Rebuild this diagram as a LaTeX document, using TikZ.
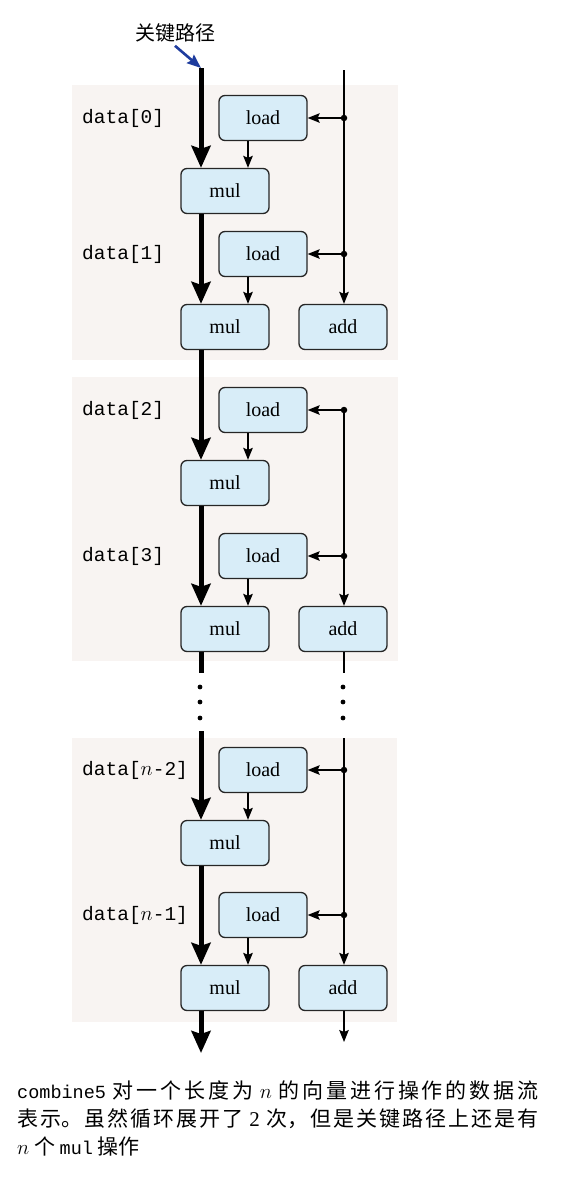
\documentclass[tikz,border=0pt]{standalone}
\usepackage[dvipsnames,svgnames]{xcolor}
\usepackage{fontspec}
\setmainfont{Liberation Serif}
\setmonofont{Liberation Mono}
\newfontfamily\cjk{Noto Sans CJK SC}
\usetikzlibrary{arrows.meta}
\definecolor{opfill}{HTML}{D8EDF8}
\definecolor{panel}{HTML}{F8F4F2}
\definecolor{tagblue}{HTML}{1E3C9E}
\XeTeXlinebreaklocale "zh"
\XeTeXlinebreakskip=0pt plus 3pt

\begin{document}
\begin{tikzpicture}[x=1pt,y=-1pt,
 op/.style={draw=black!85,line width=1.3pt,rounded corners=6pt,
   fill=opfill,minimum width=88pt,minimum height=45pt,inner sep=0pt,
   font=\fontsize{20}{20}\selectfont},
 crit/.style={line width=5pt,-{Stealth[length=22pt,width=19pt,inset=3pt]}},
 flow/.style={line width=1.3pt,-{Stealth[length=12pt,width=9.5pt,inset=2pt]}},
 wire/.style={line width=1.3pt},
 jn/.style={circle,fill,inner sep=0pt,minimum size=6.5pt},
 arg/.style={anchor=west,inner sep=0pt,
   font=\ttfamily\fontsize{19.5}{19.5}\selectfont}]
 \useasboundingbox[fill=white] (0,0) rectangle (587,1178);
 % shaded panels
 \fill[panel] (72,85) rectangle (398,360);
 \fill[panel] (72,377) rectangle (398,661);
 \fill[panel] (72,738) rectangle (397,1022);
 \node[font=\cjk\fontsize{20}{20}\selectfont] (cptag) at (175,33) {关键路径};
 % loads, muls, junctions
 \foreach \i/\y/\k in {0/118/0,1/254/1,2/410/2,3/556/3,
     4/770/{$n$-2},5/915/{$n$-1}}{
  \node[op] (ld\i) at (263,\y) {load};
  \node[op] (ml\i) at (225,\y+73) {mul};
  \node[jn] (jn\i) at (344,\y) {};
  \node[arg] (dt\i) at (82,\y) {data[\k]};
  \draw[flow] (jn\i) -- (ld\i);
  \draw[flow] ([xshift=-15pt]ld\i.south) -- ([xshift=-15pt]ld\i.south |- ml\i.north);
 }
 \node[op] (ad1) at (343,327) {add};
 \node[op] (ad3) at (343,629) {add};
 \node[op] (ad5) at (343,988) {add};
 % critical path
 \coordinate (c0) at (201,68);
 \coordinate (c1) at (201,673);
 \coordinate (c2) at (201,731);
 \coordinate (c3) at (201,1053);
 \draw[tagblue,line width=2.6pt,-{Stealth[length=14pt,width=11pt,inset=2pt]}]
   (cptag.south) -- (c0);
 \draw[crit] (c0) -- (c0 |- ml0.north);
 \foreach \a/\b in {0/1,1/2,2/3,4/5}
  \draw[crit] (ml\a.south -| c0) -- (ml\b.north -| c0);
 \draw[line width=5pt] (ml3.south -| c0) -- (c1);
 \draw[crit] (c2) -- (c2 |- ml4.north);
 \draw[crit] (ml5.south -| c0) -- (c3);
 % index column
 \coordinate (r0) at (344,70);
 \coordinate (r1) at (344,673);
 \coordinate (r2) at (344,738);
 \coordinate (r3) at (344,1042);
 \draw[wire] (r0) -- (jn0.center) -- (jn1.center);
 \draw[flow] (jn1.center) -- (jn1.center |- ad1.north);
 \draw[wire] (jn2.center) -- (jn3.center);
 \draw[flow] (jn3.center) -- (jn3.center |- ad3.north);
 \draw[wire] (ad3.south -| r1) -- (r1);
 \draw[wire] (r2) -- (jn4.center) -- (jn5.center);
 \draw[flow] (jn5.center) -- (jn5.center |- ad5.north);
 \draw[flow] (ad5.south -| r3) -- (r3);
 \foreach \y in {687,702,718}{
  \fill (200,\y) circle (2.4pt);
  \fill (343,\y) circle (2.4pt);
 }
 % caption
 \node[anchor=north west,inner sep=0pt,text width=521pt,align=justify,
   font=\cjk\fontsize{21}{28}\selectfont] (cap) at (17,1081)
  {\noindent{\ttfamily\fontsize{18.5}{18}\selectfont combine5} 对一个长度为 $n$ 的向量进行操作的数据流\linebreak 表示。虽然循环展开了 {\rmfamily 2} 次，但是关键路径上还是有\linebreak $n$ 个 {\ttfamily\fontsize{18.5}{18}\selectfont mul} 操作\par};
\end{tikzpicture}
\end{document}
